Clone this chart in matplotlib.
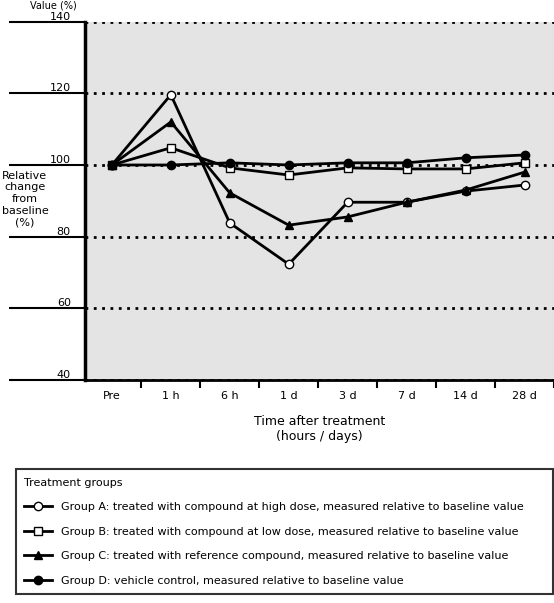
import matplotlib
matplotlib.use("Agg")
import matplotlib.pyplot as plt

# ---- data ----
categories = ["Pre", "1 h", "6 h", "1 d", "3 d", "7 d", "14 d", "28 d"]
series_names = [
    "Group A: treated with compound at high dose, measured relative to baseline value",
    "Group B: treated with compound at low dose, measured relative to baseline value",
    "Group C: treated with reference compound, measured relative to baseline value",
    "Group D: vehicle control, measured relative to baseline value",
]
group_a = [100, 119.6, 83.8, 72.3, 89.6, 89.6, 92.7, 94.4]
group_b = [100, 104.8, 99.2, 97.2, 99.2, 98.9, 98.9, 100.6]
group_c = [100, 112.0, 92.2, 83.2, 85.5, 89.6, 93.0, 98.0]
group_d = [100, 100.0, 100.6, 100.0, 100.6, 100.6, 102.0, 102.8]
y_ticks = [40, 60, 80, 100, 120, 140]

fig = plt.figure(figsize=(5.54, 6.03), dpi=100)
ax = fig.add_axes([0.153, 0.370, 0.847, 0.594])
ax.set_facecolor("#e4e4e4")

x = list(range(len(categories)))
kw = dict(color="black", lw=2, ms=6, mec="black")
ax.plot(x, group_a, marker="o", mfc="white", label=series_names[0], **kw)
ax.plot(x, group_b, marker="s", mfc="white", label=series_names[1], **kw)
ax.plot(x, group_c, marker="^", mfc="black", label=series_names[2], **kw)
ax.plot(x, group_d, marker="o", mfc="black", label=series_names[3], **kw)

ax.set_xlim(-0.46, 7.5)
ax.set_ylim(40, 140)
ax.set_yticks(y_ticks)
ax.yaxis.grid(True, linestyle=(0, (1, 2)), color="black", lw=2)
ax.set_axisbelow(True)

ax.set_xticks([i + 0.5 for i in x])
ax.set_xticklabels([])
ax.set_xticks(x, minor=True)
ax.set_xticklabels(categories, minor=True, fontsize=8)
ax.tick_params(axis="x", which="major", length=6, width=1.5, direction="out")
ax.tick_params(axis="x", which="minor", length=0, pad=8)
ax.tick_params(axis="y", length=55, width=1.5, direction="out", labelsize=8, pad=-45)
for lbl in ax.get_yticklabels():
    lbl.set_horizontalalignment("right")
    lbl.set_verticalalignment("bottom")

for s in ["top", "right"]:
    ax.spines[s].set_visible(False)
ax.spines["left"].set_linewidth(2.5)
ax.spines["bottom"].set_linewidth(2)

ax.set_xlabel("Time after treatment\n(hours / days)", fontsize=9, labelpad=10)
fig.text(0.045, 0.67, "Relative\nchange\nfrom\nbaseline\n(%)", fontsize=8, ha="center", va="center")
fig.text(0.055, 0.999, "Value (%)", fontsize=7, ha="left", va="top")

leg = fig.legend(loc="lower left", bbox_to_anchor=(0.018, 0.005, 0.99, 0.23),
                 mode="expand", ncol=1,
                 fontsize=8, frameon=True, fancybox=False, edgecolor="black",
                 handlelength=2.5, labelspacing=1.3, borderpad=0.8,
                 title="Treatment groups", title_fontsize=8)
leg._legend_box.align = "left"
leg.get_frame().set_linewidth(1.5)

fig.savefig("out.png", dpi=100)
